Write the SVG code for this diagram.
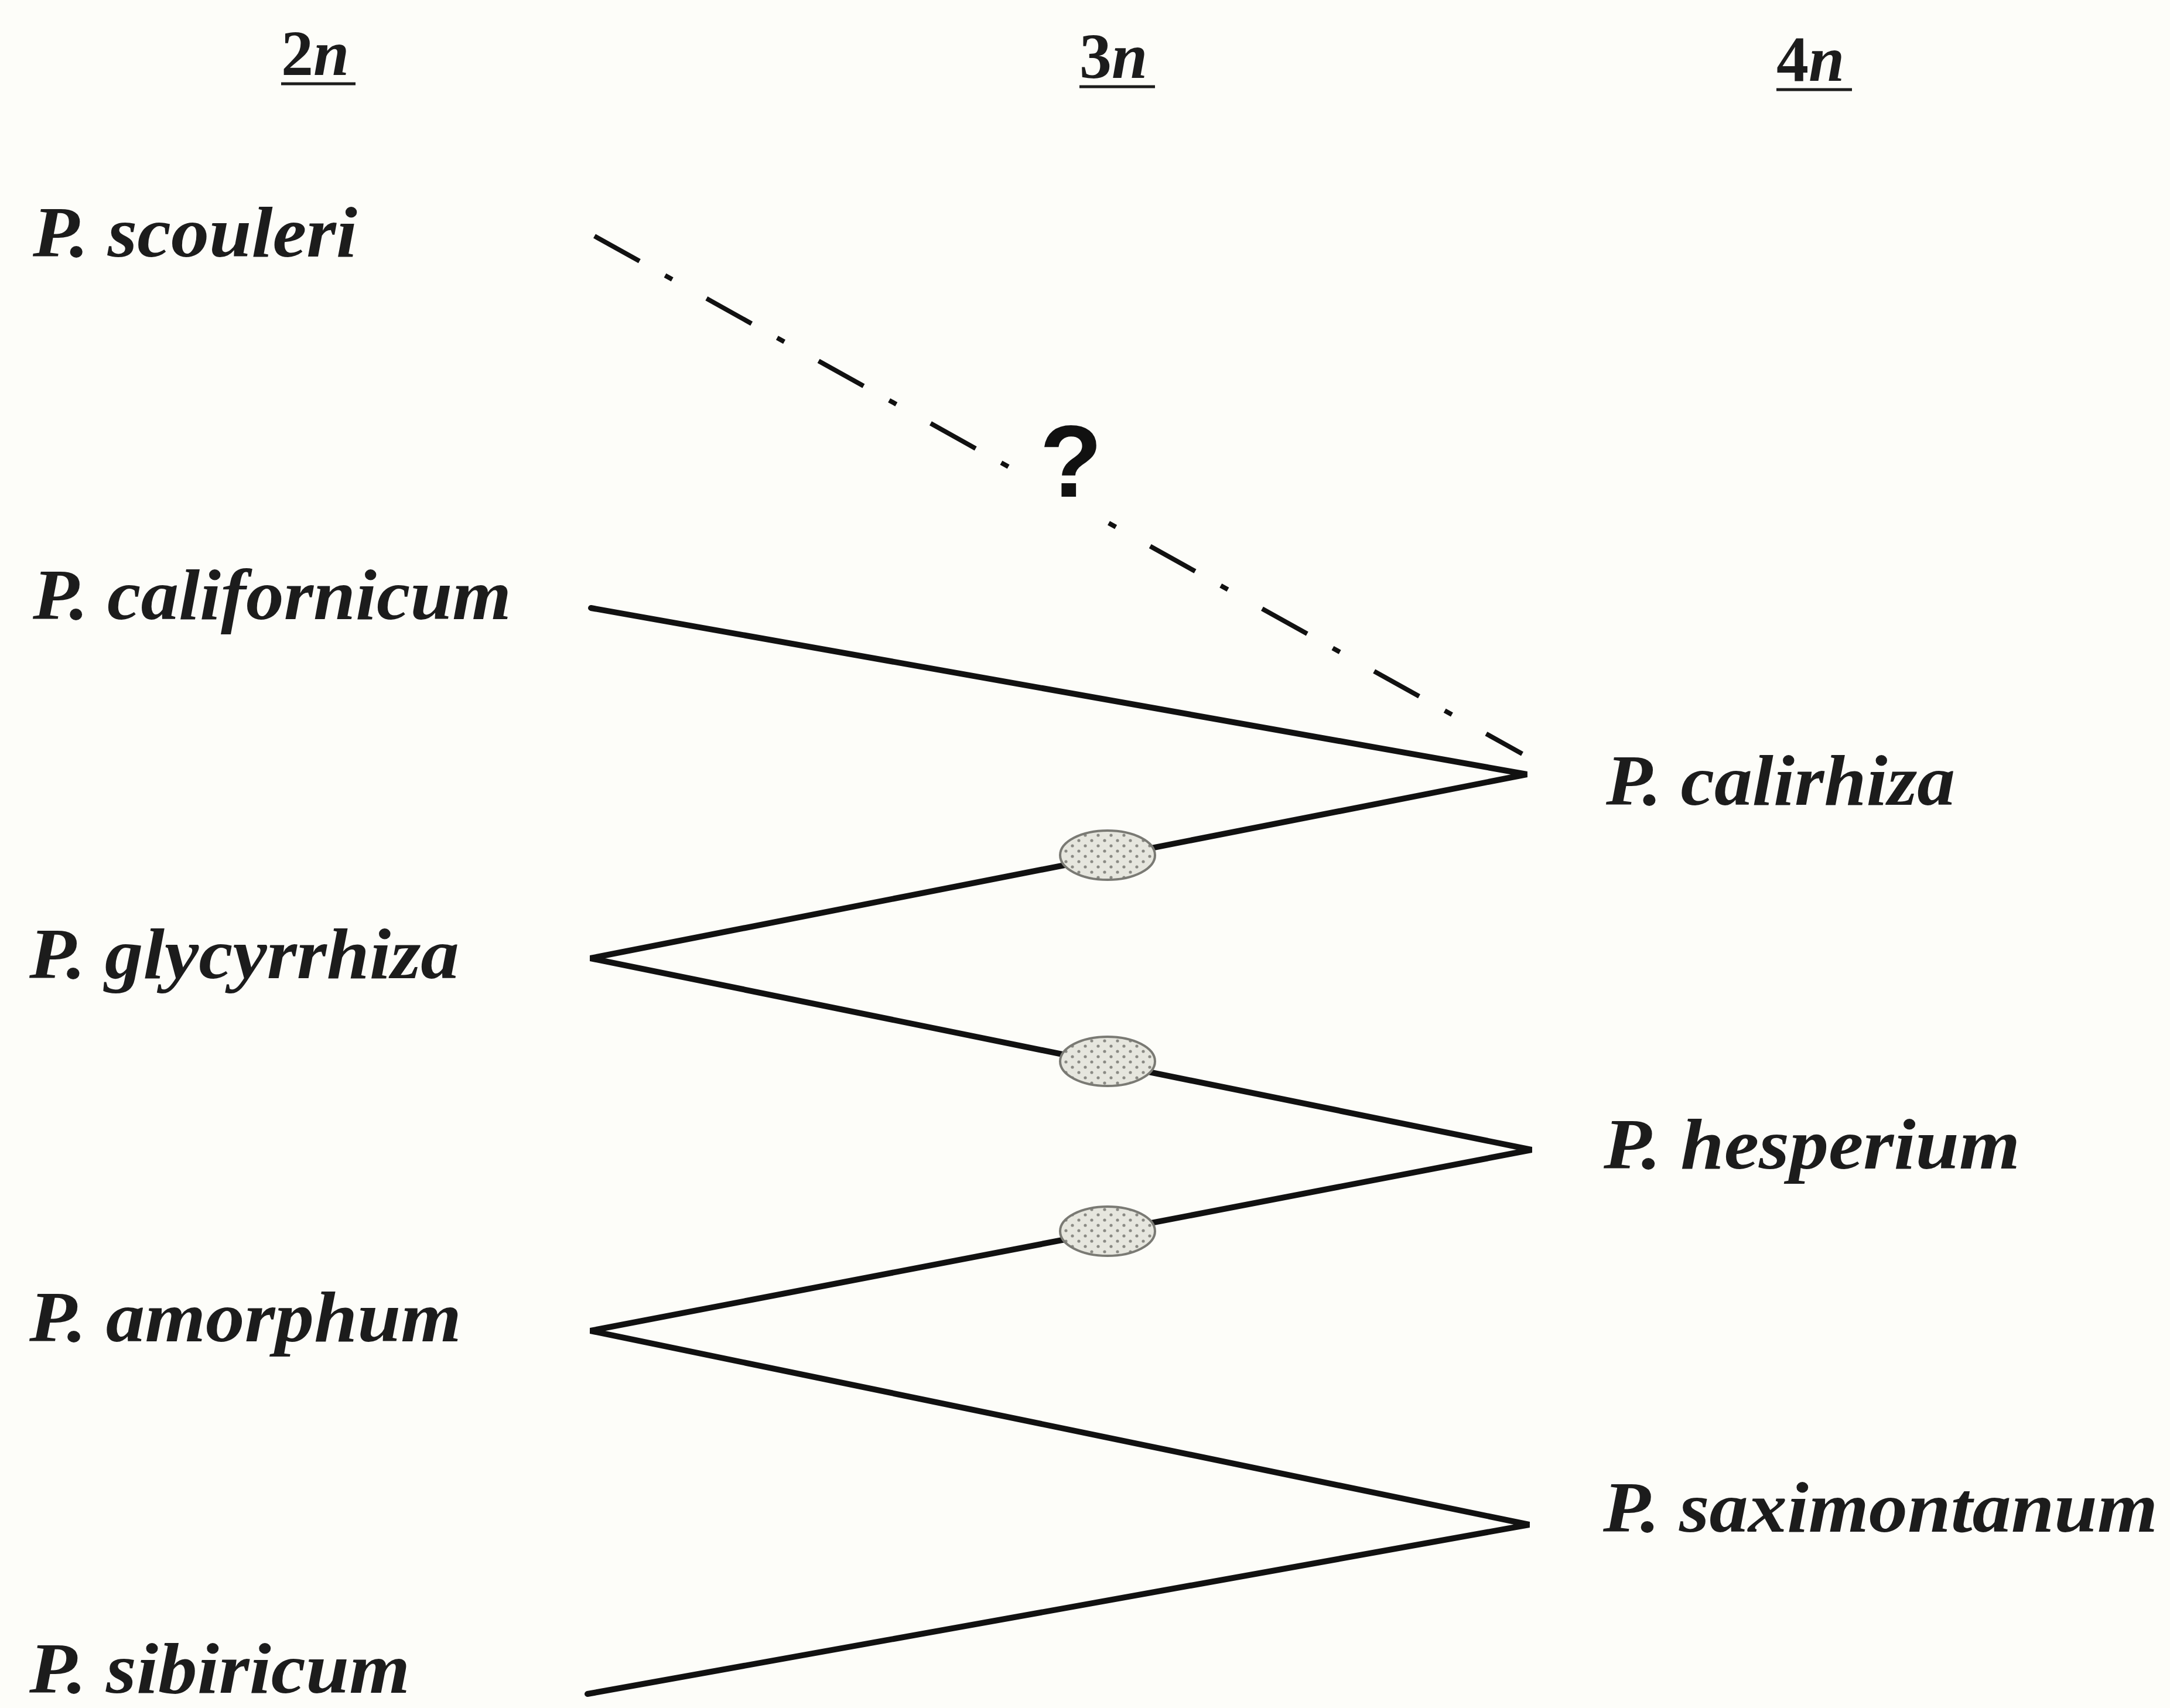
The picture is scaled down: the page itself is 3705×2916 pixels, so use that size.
<svg xmlns="http://www.w3.org/2000/svg" width="3705" height="2916" viewBox="0 0 3705 2916">
<style>
.sp{font-family:"Liberation Serif","Times New Roman",serif;font-style:italic;font-weight:bold;font-size:122px;fill:#1c1c1c}
.hd{font-family:"Liberation Serif","Times New Roman",serif;font-weight:bold;font-size:110px;fill:#1c1c1c}
.ln{fill:none;stroke:#111;stroke-width:10;stroke-linejoin:miter;stroke-linecap:round}
.dd{fill:none;stroke:#111;stroke-width:8;stroke-dasharray:88 50 14 67}
.ul{stroke:#1c1c1c;stroke-width:5}
.el{fill:url(#dots);stroke:#7a7a74;stroke-width:4}
</style>
<defs>
<pattern id="dots" width="22" height="18" patternUnits="userSpaceOnUse">
<rect width="22" height="18" fill="#e6e6de"/>
<circle cx="5" cy="4" r="2.6" fill="#8a8a84"/>
<circle cx="16" cy="13" r="2.6" fill="#8a8a84"/>
</pattern>
</defs>
<rect width="3705" height="2916" fill="#fdfdf9"/>
<g id="headers">
<g id="h2n"><text class="hd" x="480" y="128">2<tspan font-style="italic">n</tspan></text><line class="ul" x1="480" y1="143" x2="607" y2="143"/></g>
<g id="h3n"><text class="hd" x="1843" y="133">3<tspan font-style="italic">n</tspan></text><line class="ul" x1="1843" y1="148" x2="1972" y2="148"/></g>
<g id="h4n"><text class="hd" x="3033" y="138">4<tspan font-style="italic">n</tspan></text><line class="ul" x1="3033" y1="153" x2="3162" y2="153"/></g>
</g>
<g id="connectors">
<line class="dd" x1="1015" y1="403" x2="1722" y2="797"/>
<line class="dd" style="stroke-dashoffset:138" x1="1893" y1="893" x2="2599" y2="1287"/>
<polyline class="ln" points="1009,1038 2607,1322 1008,1636 2615,1963 1008,2272 2611,2603 1003,2892"/>
</g>
<g id="hybrids">
<ellipse id="e1" class="el" cx="1891" cy="1460" rx="81" ry="42"/>
<ellipse id="e2" class="el" cx="1891" cy="1812" rx="81" ry="42"/>
<ellipse id="e3" class="el" cx="1891" cy="2102" rx="81" ry="42"/>
</g>
<g id="q"><text x="1775" y="848" font-family="Liberation Sans, Arial, sans-serif" font-weight="bold" font-size="175" fill="#111">?</text></g>
<g id="n-scouleri"><text class="sp" x="56" y="438" textLength="554" lengthAdjust="spacingAndGlyphs">P. scouleri</text></g>
<g id="n-californicum"><text class="sp" x="56" y="1057" textLength="817" lengthAdjust="spacingAndGlyphs">P. californicum</text></g>
<g id="n-glycyrrhiza"><text class="sp" x="50" y="1670" textLength="734" lengthAdjust="spacingAndGlyphs">P. glycyrrhiza</text></g>
<g id="n-amorphum"><text class="sp" x="50" y="2290" textLength="738" lengthAdjust="spacingAndGlyphs">P. amorphum</text></g>
<g id="n-sibiricum"><text class="sp" x="50" y="2890" textLength="650" lengthAdjust="spacingAndGlyphs">P. sibiricum</text></g>
<g id="n-calirhiza"><text class="sp" x="2742" y="1374" textLength="596" lengthAdjust="spacingAndGlyphs">P. calirhiza</text></g>
<g id="n-hesperium"><text class="sp" x="2738" y="1995" textLength="711" lengthAdjust="spacingAndGlyphs">P. hesperium</text></g>
<g id="n-saximontanum"><text class="sp" x="2737" y="2615" textLength="947" lengthAdjust="spacingAndGlyphs">P. saximontanum</text></g>
</svg>
